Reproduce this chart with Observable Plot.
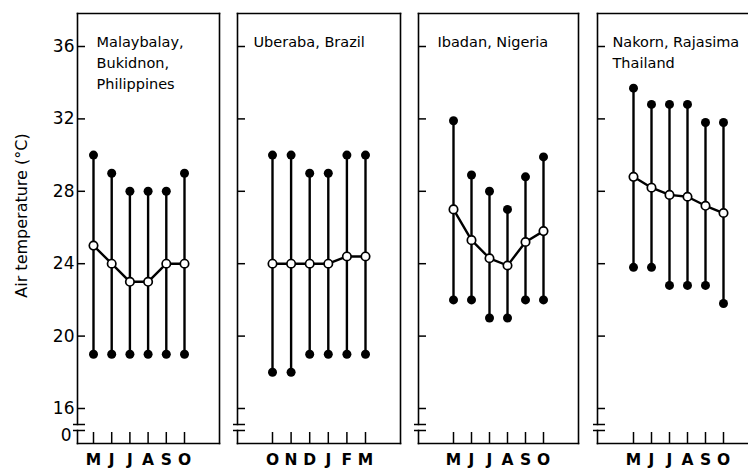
<!DOCTYPE html>
<html><head><meta charset="utf-8">
<script src="https://cdn.jsdelivr.net/npm/d3@7"></script>
<script src="https://cdn.jsdelivr.net/npm/@observablehq/plot@0.6"></script>
<style>
body{margin:0;background:#fff;}
#chart{position:relative;width:748px;height:469px;overflow:hidden;background:#fff;}
#chart svg{position:absolute;left:0;top:0;}
</style></head><body><div id="chart"></div>
<script>
// ---- data ----
const yTickValues = [0, 16, 20, 24, 28, 32, 36];
const yTickLabels = ["0", "16", "20", "24", "28", "32", "36"];
const yAxisTitle = "Air temperature (°C)";

const p1Title = ["Malaybalay,", "Bukidnon,", "Philippines"];
const p1Months = ["M", "J", "J", "A", "S", "O"];
const p1Max = [30, 29, 28, 28, 28, 29];
const p1Mean = [25, 24, 23, 23, 24, 24];
const p1Min = [19, 19, 19, 19, 19, 19];

const p2Title = ["Uberaba, Brazil"];
const p2Months = ["O", "N", "D", "J", "F", "M"];
const p2Max = [30, 30, 29, 29, 30, 30];
const p2Mean = [24, 24, 24, 24, 24.4, 24.4];
const p2Min = [18, 18, 19, 19, 19, 19];

const p3Title = ["Ibadan, Nigeria"];
const p3Months = ["M", "J", "J", "A", "S", "O"];
const p3Max = [31.9, 28.9, 28, 27, 28.8, 29.9];
const p3Mean = [27, 25.3, 24.3, 23.9, 25.2, 25.8];
const p3Min = [22, 22, 21, 21, 22, 22];

const p4Title = ["Nakorn, Rajasima", "Thailand"];
const p4Months = ["M", "J", "J", "A", "S", "O"];
const p4Max = [33.7, 32.8, 32.8, 32.8, 31.8, 31.8];
const p4Mean = [28.8, 28.2, 27.8, 27.7, 27.2, 26.8];
const p4Min = [23.8, 23.8, 22.8, 22.8, 22.8, 21.8];

// ---- layout ----
const W = 770, H = 469, TOP = 13, BOTTOM = 443;
const layout = [
  {left: 77, right: 219, x0: 93, x1: 184, tdx: 19},
  {left: 237, right: 400, x0: 272, x1: 365, tdx: 16},
  {left: 418, right: 578, x0: 453, x1: 543, tdx: 19},
  {left: 597, right: 760, x0: 633, x1: 723, tdx: 15}
];
const panels = [
  [p1Title, p1Months, p1Max, p1Mean, p1Min],
  [p2Title, p2Months, p2Max, p2Mean, p2Min],
  [p3Title, p3Months, p3Max, p3Mean, p3Min],
  [p4Title, p4Months, p4Max, p4Mean, p4Min]
];

const chart = document.getElementById("chart");
panels.forEach(([title, months, mx, mn, mi], k) => {
  const c = layout[k];
  const data = months.map((m, i) => ({i, m, max: mx[i], mean: mn[i], min: mi[i]}));
  const innerW = c.right - c.left, innerH = BOTTOM - TOP;
  const marks = [
    Plot.frame({anchor: "top", strokeWidth: 1.6}),
    Plot.frame({anchor: "right", strokeWidth: 1.6}),
    Plot.frame({anchor: "bottom", strokeWidth: 1.6}),
    Plot.frame({anchor: "left", strokeWidth: 1.6, insetBottom: BOTTOM - 424}),
    Plot.frame({anchor: "left", strokeWidth: 1.6, insetTop: 430 - TOP}),
    Plot.tickY(yTickValues.slice(1), {y: d => d, insetRight: innerW - 8, strokeWidth: 1.5}),
    Plot.tickY(yTickValues.slice(0, 1), {y: d => d, insetLeft: -4, insetRight: innerW - 8, strokeWidth: 1.5}),
    Plot.tickY(yTickValues.slice(0, 1), {y: d => d, dy: -6, insetLeft: -4, insetRight: innerW - 8, strokeWidth: 1.5}),
    Plot.tickX(data, {x: "i", insetTop: innerH - 11, strokeWidth: 1.5}),
    Plot.axisX(data.map(d => d.i), {tickSize: 0, tickPadding: 10, tickFormat: (d) => months[d], fontSize: 15.5, fontWeight: 600, label: null}),
    Plot.ruleX(data, {x: "i", y1: "min", y2: "max", strokeWidth: 2.4}),
    Plot.line(data, {x: "i", y: "mean", strokeWidth: 2.4}),
    Plot.dot(data, {x: "i", y: "max", r: 4.5, fill: "black"}),
    Plot.dot(data, {x: "i", y: "min", r: 4.5, fill: "black"}),
    Plot.dot(data, {x: "i", y: "mean", r: 4.2, fill: "white", stroke: "black", strokeWidth: 1.7}),
    Plot.text([title.join("\n")], {frameAnchor: "top-left", dx: c.tdx, dy: 19, lineAnchor: "top", textAnchor: "start", fontSize: 14.5, lineHeight: 1.45})
  ];
  if (k === 0) {
    marks.push(Plot.axisY(yTickValues.slice(1), {tickSize: 0, tickPadding: 3, tickFormat: (d, i) => yTickLabels[i + 1], fontSize: 17, label: null}));
    marks.push(Plot.axisY(yTickValues.slice(0, 1), {tickSize: 0, tickPadding: 6, dy: 5, tickFormat: (d, i) => yTickLabels[i], fontSize: 17, label: null}));
    marks.push(Plot.text([yAxisTitle], {frameAnchor: "left", textAnchor: "middle", rotate: -90, dx: -56, dy: -13, fontSize: 16}));
  }
  const svg = Plot.plot({
    width: W, height: H,
    marginLeft: c.left, marginRight: W - c.right, marginTop: TOP, marginBottom: H - BOTTOM,
    style: {background: "transparent", maxWidth: "none", fontFamily: "DejaVu Sans", color: "black", overflow: "visible"},
    x: {type: "linear", domain: [0, 5], range: [c.x0, c.x1], axis: null},
    y: {type: "linear", domain: [0, 16, 36], range: [430, 408, 46], axis: k === 0 ? undefined : null},
    marks
  });
  chart.appendChild(svg);
});
</script></body></html>
